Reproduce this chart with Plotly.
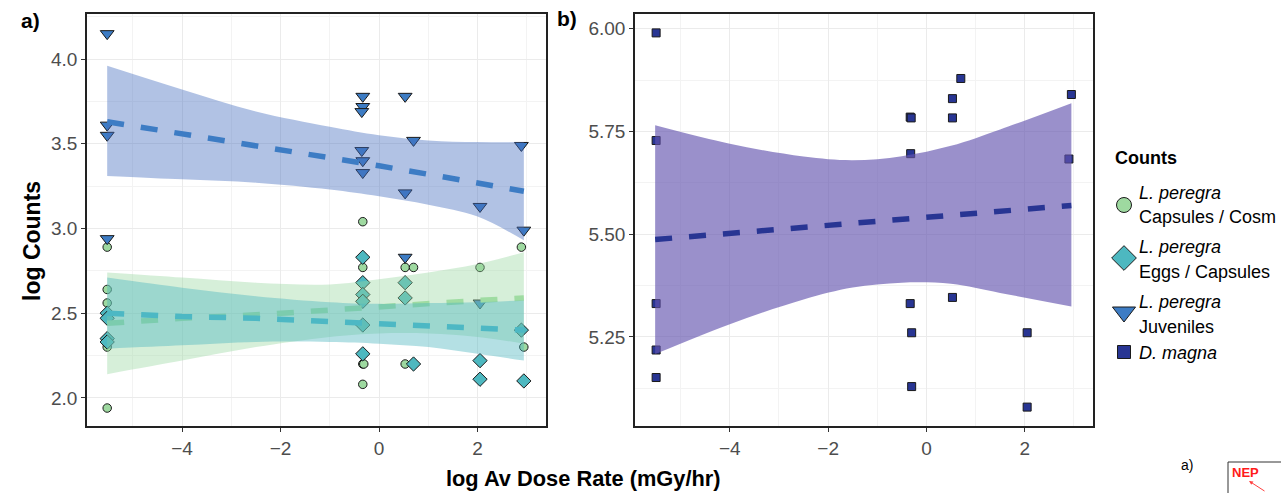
import plotly.graph_objects as go

W, H = 1281, 493

# ---------------- Panel a) L. peregra ----------------
caps_x = [-5.52, -5.52, -5.52, -5.52, -5.52, -5.52, -0.33, -0.33, -0.33, -0.31, -0.33, 0.53, 0.53, 0.70, 2.05, 2.89, 2.94]
caps_y = [2.89, 2.64, 2.56, 2.33, 2.30, 1.94, 3.04, 2.77, 2.20, 2.20, 2.08, 2.77, 2.20, 2.77, 2.77, 2.89, 2.30]

eggs_x = [-5.52, -5.52, -5.52, -5.52, -0.33, -0.33, -0.33, -0.33, -0.33, -0.33, 0.53, 0.53, 0.70, 2.05, 2.05, 2.89, 2.94]
eggs_y = [2.50, 2.47, 2.35, 2.33, 2.83, 2.68, 2.61, 2.57, 2.43, 2.26, 2.68, 2.59, 2.20, 2.22, 2.11, 2.40, 2.10]

juv_x = [-5.52, -5.52, -5.52, -5.52, -0.33, -0.33, -0.35, -0.35, -0.33, -0.33, 0.53, 0.53, 0.53, 0.70, 2.05, 2.05, 2.89, 2.94]
juv_y = [4.15, 3.61, 3.55, 2.94, 3.78, 3.72, 3.69, 3.46, 3.40, 3.33, 3.78, 3.21, 2.83, 3.52, 3.13, 2.56, 3.49, 2.99]

a_fit_x = [-5.52, -4, -2.5, -1, 0, 1, 2, 2.94]
juv_fit = [3.63, 3.56, 3.49, 3.42, 3.37, 3.32, 3.27, 3.22]
juv_upper = [3.96, 3.82, 3.69, 3.60, 3.55, 3.52, 3.51, 3.51]
juv_lower = [3.31, 3.29, 3.27, 3.23, 3.19, 3.14, 3.07, 2.93]

caps_fit = [2.44, 2.47, 2.49, 2.52, 2.54, 2.56, 2.575, 2.59]
caps_upper = [2.74, 2.71, 2.68, 2.67, 2.70, 2.74, 2.79, 2.86]
caps_lower = [2.14, 2.22, 2.30, 2.36, 2.38, 2.38, 2.36, 2.32]

eggs_fit = [2.50, 2.48, 2.47, 2.45, 2.44, 2.43, 2.41, 2.40]
eggs_upper = [2.71, 2.65, 2.60, 2.565, 2.555, 2.56, 2.565, 2.575]
eggs_lower = [2.29, 2.31, 2.33, 2.33, 2.32, 2.30, 2.26, 2.22]

# ---------------- Panel b) D. magna ----------------
dm_x = [-5.50, -5.50, -5.50, -5.50, -5.50, -0.33, -0.31, -0.32, -0.33, -0.30, -0.30,
        0.53, 0.53, 0.53, 0.70, 2.05, 2.05, 2.95, 2.90]
dm_y = [5.99, 5.728, 5.331, 5.218, 5.151, 5.785, 5.783, 5.696, 5.331, 5.26, 5.129,
        5.83, 5.783, 5.346, 5.879, 5.26, 5.079, 5.84, 5.683]

b_fit_x = [-5.52, -4, -2.5, -1.5, -0.5, 0.5, 1.5, 2.95]
dm_fit = [5.487, 5.502, 5.516, 5.526, 5.536, 5.546, 5.556, 5.57]
dm_upper = [5.765, 5.72, 5.689, 5.68, 5.69, 5.715, 5.755, 5.819]
dm_lower = [5.208, 5.281, 5.341, 5.37, 5.382, 5.379, 5.357, 5.324]

x_ticks = [-4, -2, 0, 2]

# legend labels (species in italics, group on second line)
legend_title = "Counts"
leg_species = ["L. peregra", "L. peregra", "L. peregra", "D. magna"]
leg_groups = ["Capsules / Cosm", "Eggs / Capsules", "Juveniles", ""]

# colours
C_CAPS, C_EGGS, C_JUV, C_DM = "#9ED9A0", "#4DB8C0", "#3D7CC4", "#283593"
LINE_CAPS, LINE_EGGS, LINE_JUV, LINE_DM = "#9FDCA2", "#4DB8C4", "#3D7CC4", "#283593"
F_CAPS, F_EGGS, F_JUV, F_DM = ("rgba(152,216,160,0.40)", "rgba(77,182,190,0.42)",
                               "rgba(70,110,190,0.42)", "rgba(100,85,175,0.65)")

FONT = "Liberation Sans, Arial, Helvetica, sans-serif"
fig = go.Figure()


def add_points(x, y, sym, size, color, xa, ya):
    fig.add_trace(go.Scatter(x=x, y=y, mode="markers", xaxis=xa, yaxis=ya, showlegend=False,
                             marker=dict(symbol=sym, size=size, color=color,
                                         line=dict(color="#1a1a1a", width=1)),
                             hoverinfo="skip"))


def add_band(bx, lo, hi, fit, fill, lcol, xa, ya):
    fig.add_trace(go.Scatter(x=bx, y=lo, mode="lines", line=dict(width=0, shape="spline"),
                             xaxis=xa, yaxis=ya, showlegend=False, hoverinfo="skip"))
    fig.add_trace(go.Scatter(x=bx, y=hi, mode="lines", line=dict(width=0, shape="spline"),
                             fill="tonexty", fillcolor=fill,
                             xaxis=xa, yaxis=ya, showlegend=False, hoverinfo="skip"))
    fig.add_trace(go.Scatter(x=bx, y=fit, mode="lines",
                             line=dict(color=lcol, width=5.5, dash="17px,17px"),
                             xaxis=xa, yaxis=ya, showlegend=False, hoverinfo="skip"))


# points (drawn under the smooths as in ggplot order)
add_points(caps_x, caps_y, "circle", 8.5, C_CAPS, "x", "y")
add_points(eggs_x, eggs_y, "diamond", 11, C_EGGS, "x", "y")
add_points(juv_x, juv_y, "triangle-down", 12, C_JUV, "x", "y")
add_points(dm_x, dm_y, "square", 8, C_DM, "x2", "y2")

add_band(a_fit_x, caps_lower, caps_upper, caps_fit, F_CAPS, LINE_CAPS, "x", "y")
add_band(a_fit_x, eggs_lower, eggs_upper, eggs_fit, F_EGGS, LINE_EGGS, "x", "y")
add_band(a_fit_x, juv_lower, juv_upper, juv_fit, F_JUV, LINE_JUV, "x", "y")
add_band(b_fit_x, dm_lower, dm_upper, dm_fit, F_DM, LINE_DM, "x2", "y2")

axis_common = dict(showline=True, linecolor="#222222", linewidth=1.5, mirror=True,
                   ticks="outside", ticklen=4, tickcolor="#333333", tickwidth=1,
                   tickfont=dict(size=19, color="#4D4D4D", family=FONT),
                   showgrid=True, gridcolor="#EBEBEB", gridwidth=1.3, zeroline=False)

xa_dom = [87 / W, 546 / W]
xb_dom = [635 / W, 1093 / W]
y_dom = [1 - 426 / H, 1 - 14 / H]
xrange = [-5.93, 3.39]

# legend key area: an invisible axis pair measured in pixels
LEG_L = 1100
fig.update_layout(
    width=W, height=H, autosize=False, margin=dict(l=0, r=0, t=0, b=0),
    paper_bgcolor="white", plot_bgcolor="white", showlegend=False,
    font=dict(family=FONT, color="black"),
    xaxis=dict(domain=xa_dom, range=xrange, tickvals=x_ticks, anchor="y",
               minor=dict(dtick=1, tick0=-5, showgrid=True, gridcolor="#F3F3F3", gridwidth=1, ticks=""),
               **axis_common),
    yaxis=dict(domain=y_dom, range=[1.834, 4.266], dtick=0.5, tickformat=".1f", anchor="x",
               minor=dict(dtick=0.25, showgrid=True, gridcolor="#F3F3F3", gridwidth=1, ticks=""),
               **axis_common),
    xaxis2=dict(domain=xb_dom, range=xrange, tickvals=x_ticks, anchor="y2",
                minor=dict(dtick=1, tick0=-5, showgrid=True, gridcolor="#F3F3F3", gridwidth=1, ticks=""),
                **axis_common),
    yaxis2=dict(domain=y_dom, range=[5.033, 6.036], dtick=0.25, tickformat=".2f", anchor="x2",
                minor=dict(dtick=0.125, showgrid=True, gridcolor="#F3F3F3", gridwidth=1, ticks=""),
                **axis_common),
    xaxis3=dict(domain=[LEG_L / W, 1], range=[LEG_L, W], visible=False, anchor="y3", fixedrange=True),
    yaxis3=dict(domain=[0, 1], range=[H, 0], visible=False, anchor="x3", fixedrange=True),
)


def px(x):
    return x / W


def py(y):
    return 1 - y / H


# legend key symbols (pixel positions of the key column)
key_x = 1124
key_y = [205, 258, 312, 352]
key_sym = ["circle", "diamond", "triangle-down", "square"]
key_size = [15, 19, 20, 13]
key_col = [C_CAPS, C_EGGS, C_JUV, C_DM]
for ky, s, sz, c in zip(key_y, key_sym, key_size, key_col):
    fig.add_trace(go.Scatter(x=[key_x], y=[ky], mode="markers", xaxis="x3", yaxis="y3",
                             showlegend=False, hoverinfo="skip",
                             marker=dict(symbol=s, size=sz, color=c, line=dict(color="#1a1a1a", width=1))))

# legend texts
line1_y = [193, 247, 302, 353]
line2_y = [217, 272, 327, None]
fig.add_annotation(xref="paper", yref="paper", x=px(1113), y=py(158), xanchor="left", yanchor="middle",
                   showarrow=False, text=f"<b>{legend_title}</b>", font=dict(size=18))
for sp, gr, y1, y2 in zip(leg_species, leg_groups, line1_y, line2_y):
    fig.add_annotation(xref="paper", yref="paper", x=px(1137), y=py(y1), xanchor="left", yanchor="middle",
                       showarrow=False, text=f"<i>{sp}</i>", font=dict(size=18))
    if gr:
        fig.add_annotation(xref="paper", yref="paper", x=px(1137), y=py(y2), xanchor="left",
                           yanchor="middle", showarrow=False, text=gr, font=dict(size=18))

ann = [
    dict(text="<b>a)</b>", x=px(30), y=py(20), font=dict(size=21)),
    dict(text="<b>b)</b>", x=px(567), y=py(19), font=dict(size=21)),
    dict(text="<b>log Av Dose Rate (mGy/hr)</b>", x=px(583), y=py(478), font=dict(size=21.8)),
    dict(text="<b>log Counts</b>", x=px(32), y=py(241), textangle=-90, font=dict(size=23)),
    dict(text="a)", x=px(1187), y=py(465), font=dict(size=14)),
    dict(text="<b>NEP</b>", x=px(1245), y=py(472), font=dict(size=13, color="#FF1A1A")),
]
for a in ann:
    fig.add_annotation(xref="paper", yref="paper", showarrow=False, xanchor="center",
                       yanchor="middle", **a)

fig.add_annotation(xref="paper", yref="paper", x=px(1249), y=py(481), ax=17, ay=11,
                   axref="pixel", ayref="pixel", showarrow=True, arrowhead=2, arrowsize=0.8,
                   arrowwidth=1, arrowcolor="#FF4040", text="")
fig.add_shape(type="line", xref="paper", yref="paper", x0=px(1228), x1=px(1228), y0=py(462), y1=py(493),
              line=dict(color="#333333", width=1))
fig.add_shape(type="line", xref="paper", yref="paper", x0=px(1228), x1=px(1281), y0=py(462), y1=py(462),
              line=dict(color="#333333", width=1))

fig.write_html("out.html", config={"displayModeBar": False, "responsive": False},
               default_width="1281px", default_height="493px",
               post_script="document.body.style.margin='0';document.body.style.padding='0';"
                           "document.body.style.overflow='hidden';")
